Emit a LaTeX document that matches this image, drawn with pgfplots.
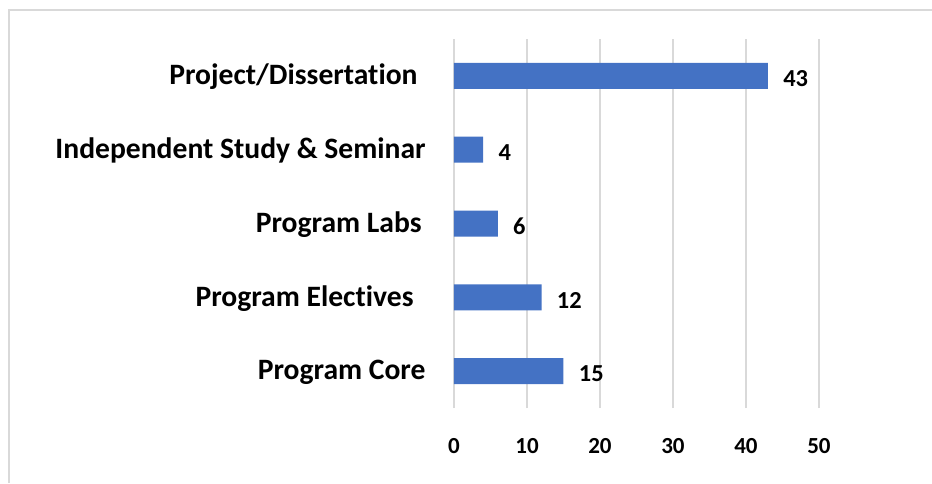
\documentclass[border=0pt]{standalone}
\usepackage{fontspec}
\setmainfont{Carlito}[Ligatures=NoCommon]
\usepackage{pgfplots}
\pgfplotsset{compat=1.18}
\definecolor{barblue}{HTML}{4472C4}
\definecolor{gridgray}{HTML}{D9D9D9}
\begin{document}
\begin{tikzpicture}
\useasboundingbox (0,0) rectangle (466pt,241.5pt);
\draw[gridgray, line width=1pt] (4.5pt,0) -- (4.5pt,236.25pt) -- (466pt,236.25pt);
\begin{axis}[
  at={(227pt,37.5pt)}, anchor=south west,
  scale only axis, width=182.5pt, height=184.5pt,
  xmin=0, xmax=50, ymin=-0.5, ymax=4.5,
  xbar, bar width=13pt,
  axis line style={draw=none},
  major tick length=0pt,
  xmajorgrids, grid style={gridgray, line width=0.75pt},
  xtick={0,10,20,30,40,50},
  ytick={0,1,2,3,4},
  yticklabels={Program Core, Program Electives\kern6pt, Program Labs\kern2pt, Independent Study \& Seminar, Project/Dissertation\kern4pt},
  /pgf/number format/assume math mode=true,
  xticklabel style={font=\fontsize{11.5}{13}\selectfont\bfseries, inner sep=0pt, anchor=north, yshift=-15pt},
  yticklabel style={font=\fontsize{14.8}{17}\selectfont\bfseries, inner sep=0pt, anchor=east, xshift=-14pt, yshift=-0.5pt},
  nodes near coords,
  nodes near coords style={font=\fontsize{12.2}{14}\selectfont\bfseries, anchor=west, inner sep=0pt, xshift=7.5pt, yshift=-1.5pt},
  clip=false,
]
\addplot[fill=barblue, draw=none] coordinates {(15,0) (12,1) (6,2) (4,3) (43,4)};
\end{axis}
\end{tikzpicture}
\end{document}
